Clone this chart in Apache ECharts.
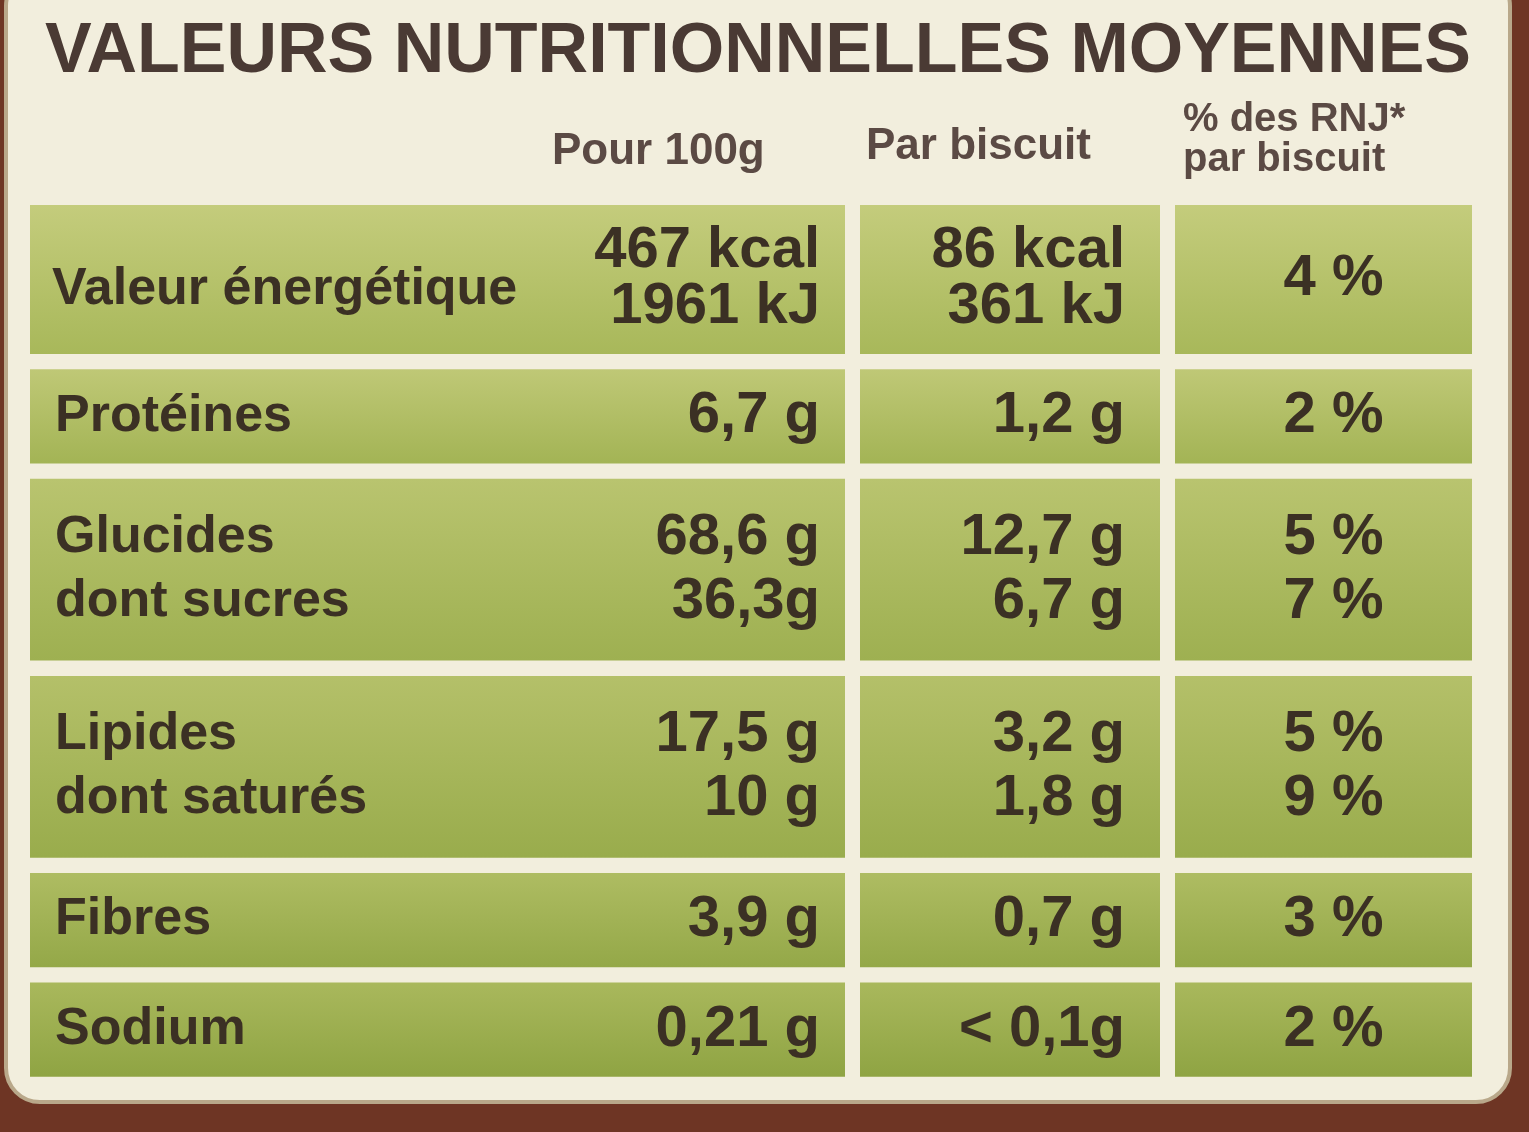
<!DOCTYPE html>
<html>
<head>
<meta charset="utf-8">
<script src="https://cdn.jsdelivr.net/npm/echarts@6/dist/echarts.min.js"></script>
<style>
  html, body { margin: 0; padding: 0; }
  #chart { width: 1529px; height: 1132px; }
</style>
</head>
<body>
<div id="chart"></div>
<script>
// table content
const title = 'VALEURS NUTRITIONNELLES MOYENNES';
const colHeaders = ['Pour 100g', 'Par biscuit', '% des RNJ*\npar biscuit'];
const rowLabels = [['Valeur énergétique'], ['Protéines'], ['Glucides', 'dont sucres'], ['Lipides', 'dont saturés'], ['Fibres'], ['Sodium']];
const per100 = [['467 kcal', '1961 kJ'], ['6,7 g'], ['68,6 g', '36,3g'], ['17,5 g', '10 g'], ['3,9 g'], ['0,21 g']];
const perBiscuit = [['86 kcal', '361 kJ'], ['1,2 g'], ['12,7 g', '6,7 g'], ['3,2 g', '1,8 g'], ['0,7 g'], ['< 0,1g']];
const rnj = [['4 %'], ['2 %'], ['5 %', '7 %'], ['5 %', '9 %'], ['3 %'], ['2 %']];
const rowUnits = [1.5, 1, 1.8, 1.8, 1, 1];

// column spans on the hidden x value axis
const colSpans = [[0, 815], [830, 1130], [1145, 1442]];
const GAP = 0.14;
const FONT = '"Liberation Sans Narrow", "Liberation Sans", sans-serif';
const INK = '#3b3024';

const rowStarts = [];
let acc = 0;
rowUnits.forEach(u => { rowStarts.push(acc); acc += u; });
const totalUnits = acc;

const cells = [];
rowLabels.forEach((_, r) => {
  for (let c = 0; c < 3; c++) cells.push([c, r]);
});

function renderCell(params, api) {
  const c = api.value(0), r = api.value(1);
  const span = colSpans[c];
  const y0 = rowStarts[r], y1 = rowStarts[r] + rowUnits[r] - GAP;
  const p0 = api.coord([span[0], y0]);
  const p1 = api.coord([span[1], y1]);
  const x = p0[0], y = p0[1], w = p1[0] - p0[0], h = p1[1] - p0[1];
  const dark = r / (rowLabels.length - 1);
  const top = echarts.color.lerp(dark, ['#c4cc7c', '#a9b85c']);
  const bot = echarts.color.lerp(dark, ['#a8b85a', '#8fa443']);
  const children = [{
    type: 'rect',
    shape: { x, y, width: w, height: h },
    style: {
      fill: new echarts.graphic.LinearGradient(0, 0, 0, 1, [
        { offset: 0, color: top }, { offset: 1, color: bot }
      ])
    }
  }];
  const lineText = (txt, tx, ty, align, size) => ({
    type: 'text',
    style: {
      text: txt, x: tx, y: ty, align: align, verticalAlign: 'middle',
      font: 'bold ' + size + 'px ' + FONT, fill: INK
    }
  });
  const stack = (lines, tx, align, size) => {
    const lh = lines.length > 1 ? (r === 0 ? 56 : 64) : 0;
    const mid = y + h / 2;
    lines.forEach((t, i) => {
      children.push(lineText(t, tx, mid + (i - (lines.length - 1) / 2) * lh, align, size));
    });
  };
  if (c === 0) {
    const labs = rowLabels[r];
    if (r === 0) {
      children.push(lineText(labs[0], x + 22, y + h / 2 + 10, 'left', 52));
    } else {
      stack(labs, x + 25, 'left', 52);
    }
    stack(per100[r], x + w - 25, 'right', 58);
  } else if (c === 1) {
    stack(perBiscuit[r], x + w - 35, 'right', 58);
  } else {
    stack(rnj[r], x + w / 2 + 10, 'center', 58);
  }
  return { type: 'group', children };
}

const chart = echarts.init(document.getElementById('chart'));
chart.setOption({
  backgroundColor: '#6e3524',
  animation: false,
  graphic: [
    {
      type: 'rect', left: 4, top: -30, z: -10,
      shape: { width: 1504, height: 1130, r: 34 },
      style: { fill: '#f2eedd', stroke: '#b9a88a', lineWidth: 4 }
    },
    {
      type: 'text', left: 45, top: 18,
      style: { text: title, font: 'bold 70px ' + FONT, fill: '#4a3a34' }
    },
    {
      type: 'text', left: 552, top: 130,
      style: { text: colHeaders[0], font: 'bold 44px ' + FONT, fill: '#5b4a44' }
    },
    {
      type: 'text', left: 866, top: 125,
      style: { text: colHeaders[1], font: 'bold 44px ' + FONT, fill: '#5b4a44' }
    },
    {
      type: 'text', left: 1183, top: 100,
      style: { text: colHeaders[2], font: 'bold 40px ' + FONT, fill: '#5b4a44', lineHeight: 40, align: 'left' }
    }
  ],
  grid: { left: 30, right: 57, top: 205, bottom: 40 },
  xAxis: { type: 'value', min: 0, max: 1442, show: false },
  yAxis: { type: 'value', min: 0, max: totalUnits, inverse: true, show: false },
  series: [{
    type: 'custom',
    data: cells,
    renderItem: renderCell,
    silent: true
  }]
});
</script>
</body>
</html>
